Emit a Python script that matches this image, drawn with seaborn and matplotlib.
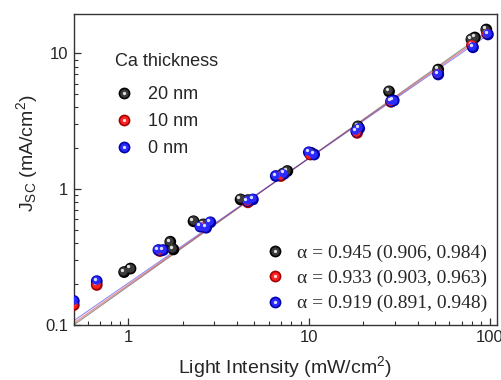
import numpy as np
import pandas as pd
import seaborn as sns
import matplotlib
matplotlib.use("Agg")
import matplotlib.pyplot as plt
from matplotlib.ticker import FuncFormatter, LogLocator, NullFormatter
from matplotlib.transforms import offset_copy
from matplotlib.lines import Line2D
from matplotlib.legend_handler import HandlerTuple

# Short-circuit current vs. light intensity for three Ca interlayer thicknesses
int_20 = [0.95, 1.03, 1.71, 1.78, 2.30, 2.6, 4.19, 4.6, 7.2, 7.6, 10.3, 18.7, 27.8, 52, 79.4, 83, 96]
jsc_20 = [0.245, 0.26, 0.41, 0.36, 0.58, 0.55, 0.84, 0.83, 1.30, 1.36, 1.85, 2.9, 5.25, 7.6, 12.7, 13.1, 15.0]

int_10 = [0.5, 0.67, 1.5, 2.6, 4.6, 7.0, 10.2, 18.5, 28.5, 52, 80, 97]
jsc_10 = [0.14, 0.197, 0.35, 0.53, 0.80, 1.25, 1.80, 2.6, 4.4, 7.1, 11.5, 14.0]

int_0 = [0.5, 0.67, 1.47, 1.56, 2.51, 2.7, 2.85, 4.58, 4.9, 6.56, 7.3, 10.0, 10.7, 18.3, 19.0, 28.6, 29.5, 52, 81, 98]
jsc_0 = [0.15, 0.21, 0.356, 0.356, 0.53, 0.52, 0.57, 0.82, 0.84, 1.25, 1.30, 1.87, 1.80, 2.67, 2.8, 4.44, 4.5, 7.0, 11.1, 13.8]

thickness = ["20 nm", "10 nm", "0 nm"]
rim_colors = ["#000000", "#a00000", "#0000a8"]
body_colors = ["#3a3a3a", "#ff2020", "#2a2aff"]

# Power-law fits J = A * I^alpha with 95% confidence bounds on alpha
alpha = [0.945, 0.933, 0.919]
alpha_lo = [0.906, 0.903, 0.891]
alpha_hi = [0.984, 0.963, 0.948]
prefactor = [0.1925, 0.197, 0.203]
line_colors = ["#202020", "#e01010", "#2020e0"]

xticks = [1, 10, 100]
yticks = [0.1, 1, 10]

df = pd.concat([
    pd.DataFrame({"I": int_20, "J": jsc_20, "Ca": thickness[0]}),
    pd.DataFrame({"I": int_10, "J": jsc_10, "Ca": thickness[1]}),
    pd.DataFrame({"I": int_0, "J": jsc_0, "Ca": thickness[2]}),
], ignore_index=True)

sns.set_theme(style="ticks")
plt.rcParams["font.family"] = ["Liberation Sans", "DejaVu Sans"]
plt.rcParams["mathtext.default"] = "regular"

fig = plt.figure(figsize=(5.02, 3.80), dpi=100)
ax = fig.add_axes([0.147, 0.145, 0.843, 0.818])
ax.set_xscale("log")
ax.set_yscale("log")

# fitted lines
xfit = np.logspace(np.log10(0.5), np.log10(100), 100)
for a, A, c in zip(alpha, prefactor, line_colors):
    sns.lineplot(x=xfit, y=A * xfit ** a, ax=ax, color=c, lw=0.8, alpha=0.5, zorder=2)

# shaded "ball" markers: dark rim, lighter body shifted up-left, small highlight
sns.scatterplot(data=df, x="I", y="J", hue="Ca", palette=dict(zip(thickness, rim_colors)),
                s=72, linewidth=0, ax=ax, legend=False, zorder=3)
body_tr = offset_copy(ax.transData, fig=fig, x=-0.7, y=0.7, units="points")
spot_tr = offset_copy(ax.transData, fig=fig, x=-1.6, y=1.6, units="points")
for k, name in enumerate(thickness):
    sub = df[df["Ca"] == name]
    ax.plot(sub["I"], sub["J"], ls="none", marker="o", ms=6.2, mfc=body_colors[k],
            mec="none", transform=body_tr, zorder=3 + 0.1 * (k + 1))
    ax.plot(sub["I"], sub["J"], ls="none", marker="o", ms=2.4, mfc="white",
            mec="none", alpha=0.85, transform=spot_tr, zorder=3 + 0.1 * (k + 1) + 0.05)

ax.set_xlim(0.5, 110)
ax.set_ylim(0.1, 19.5)
ax.set_xticks(xticks)
ax.set_yticks(yticks)
fmt = FuncFormatter(lambda v, p: f"{v:g}")
ax.xaxis.set_major_formatter(fmt)
ax.yaxis.set_major_formatter(fmt)
ax.xaxis.set_minor_locator(LogLocator(base=10, subs=np.arange(2, 10)))
ax.yaxis.set_minor_locator(LogLocator(base=10, subs=np.arange(2, 10)))
ax.xaxis.set_minor_formatter(NullFormatter())
ax.yaxis.set_minor_formatter(NullFormatter())
ax.tick_params(which="both", direction="in", top=False, right=False, color="#333333")
ax.tick_params(which="major", length=5, width=0.9, labelsize=12, pad=4)
ax.tick_params(which="minor", length=3, width=0.8)
for sp in ax.spines.values():
    sp.set_color("#333333")
    sp.set_linewidth(1.0)

ax.set_xlabel("Light Intensity (mW/cm$^2$)", fontsize=14, labelpad=6)
ax.set_ylabel("J$_{SC}$ (mA/cm$^2$)", fontsize=14)
ax.yaxis.set_label_coords(-0.08, 0.553)


def ball(k):
    rim = Line2D([], [], ls="none", marker="o", ms=8.5, mfc=rim_colors[k], mec="none")
    body = Line2D([], [], ls="none", marker="o", ms=6.2, mfc=body_colors[k], mec="none")
    spot = Line2D([], [], ls="none", marker="o", ms=2.4, mfc="white", mec="none", alpha=0.85)
    return (rim, body, spot)


handles = [ball(k) for k in range(3)]
leg1 = ax.legend(handles, thickness, title="Ca thickness", loc="upper left",
                 bbox_to_anchor=(0.06, 0.928), frameon=False, fontsize=13,
                 title_fontsize=13, handler_map={tuple: HandlerTuple(ndivide=1)},
                 handlelength=1.0, handletextpad=0.8, labelspacing=0.55,
                 alignment="left")
leg1._legend_box.sep = 12
ax.add_artist(leg1)

labels2 = [f"α = {a:.3f} ({lo:.3f}, {hi:.3f})" for a, lo, hi in zip(alpha, alpha_lo, alpha_hi)]
ax.legend(handles, labels2, loc="lower right", bbox_to_anchor=(1.018, -0.016),
          frameon=False, prop={"family": "Liberation Serif", "size": 14},
          handler_map={tuple: HandlerTuple(ndivide=1)}, handlelength=1.0,
          handletextpad=0.6, labelspacing=0.38)

fig.savefig("out.png", dpi=100)
